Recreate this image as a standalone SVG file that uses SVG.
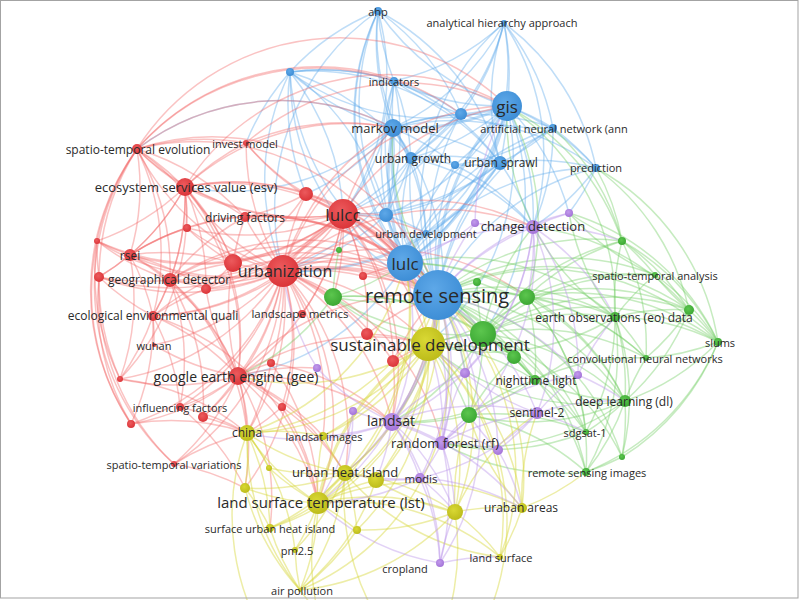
<svg xmlns="http://www.w3.org/2000/svg" width="800" height="600" viewBox="0 0 800 600">
<defs>
<radialGradient id="gR" cx="0.42" cy="0.38" r="0.62"><stop offset="0" stop-color="#ec5a5d"/><stop offset="1" stop-color="#db3539"/></radialGradient>
<radialGradient id="gB" cx="0.42" cy="0.38" r="0.62"><stop offset="0" stop-color="#5ea8e8"/><stop offset="1" stop-color="#3e8ed6"/></radialGradient>
<radialGradient id="gG" cx="0.42" cy="0.38" r="0.62"><stop offset="0" stop-color="#5cc64e"/><stop offset="1" stop-color="#3ca834"/></radialGradient>
<radialGradient id="gY" cx="0.42" cy="0.38" r="0.62"><stop offset="0" stop-color="#d9d834"/><stop offset="1" stop-color="#bdbc1a"/></radialGradient>
<radialGradient id="gP" cx="0.42" cy="0.38" r="0.62"><stop offset="0" stop-color="#c29aec"/><stop offset="1" stop-color="#a474d8"/></radialGradient>
</defs>
<style>
text{font-family:"Open Sans","DejaVu Sans",sans-serif;fill:#2a2a2a;text-anchor:middle;dominant-baseline:central}
#connectors path{fill:none;stroke-width:1.5;stroke-linecap:round}
#connectors .t{stroke-width:3}
.eb path{stroke:#5ea9ea;stroke-opacity:.4}
.er path{stroke:#f26a6a;stroke-opacity:.4}
.eg path{stroke:#70cc62;stroke-opacity:.4}
.ey path{stroke:#d8d63c;stroke-opacity:.45}
.ep path{stroke:#bb93ea;stroke-opacity:.42}
.R circle{fill:url(#gR)}
.B circle{fill:url(#gB)}
.G circle{fill:url(#gG)}
.Y circle{fill:url(#gY)}
.P circle{fill:url(#gP)}
</style>
<rect x="0" y="0" width="800" height="600" fill="#ffffff"/>
<g id="connectors">
<g class="eb">
<path class="t" d="M438 295A240 240 0 0 1 507 106"/>
<path class="t" d="M438 295A240 240 0 0 1 393 128"/>
<path class="t" d="M438 295A240 240 0 0 1 405 263"/>
<path d="M438 295A240 240 0 0 1 378 11"/>
<path d="M438 295A240 240 0 0 1 504 23"/>
<path d="M438 295A240 240 0 0 1 290 72"/>
<path d="M438 295A240 240 0 0 1 394 81"/>
<path d="M438 295A240 240 0 0 1 461 114"/>
<path d="M438 295A240 240 0 0 1 553 128"/>
<path d="M438 295A240 240 0 0 1 411 158"/>
<path d="M438 295A240 240 0 0 1 455 165"/>
<path d="M438 295A240 240 0 0 1 500 163"/>
<path d="M438 295A240 240 0 0 1 596 168"/>
<path d="M438 295A240 240 0 0 1 386 215"/>
<path d="M438 295A240 240 0 0 1 426 233"/>
<path d="M507 106A240 240 0 0 1 378 11"/>
<path d="M507 106A240 240 0 0 0 504 23"/>
<path d="M507 106A240 240 0 0 1 290 72"/>
<path d="M507 106A240 240 0 0 1 394 81"/>
<path d="M507 106A240 240 0 0 1 461 114"/>
<path class="t" d="M507 106A240 240 0 0 1 393 128"/>
<path d="M507 106A240 240 0 0 1 553 128"/>
<path d="M507 106A240 240 0 0 1 411 158"/>
<path d="M507 106A240 240 0 0 1 455 165"/>
<path d="M507 106A240 240 0 0 1 500 163"/>
<path d="M507 106A240 240 0 0 1 596 168"/>
<path d="M507 106A240 240 0 0 1 386 215"/>
<path d="M507 106A240 240 0 0 1 426 233"/>
<path class="t" d="M507 106A240 240 0 0 1 405 263"/>
<path d="M405 263A240 240 0 0 1 378 11"/>
<path d="M405 263A240 240 0 0 0 504 23"/>
<path d="M405 263A240 240 0 0 1 290 72"/>
<path d="M405 263A240 240 0 0 1 394 81"/>
<path class="t" d="M405 263A240 240 0 0 1 393 128"/>
<path d="M405 263A240 240 0 0 1 553 128"/>
<path d="M405 263A240 240 0 0 1 411 158"/>
<path d="M405 263A240 240 0 0 1 455 165"/>
<path d="M405 263A240 240 0 0 1 500 163"/>
<path d="M405 263A240 240 0 0 1 596 168"/>
<path d="M405 263A240 240 0 0 1 386 215"/>
<path d="M405 263A240 240 0 0 1 426 233"/>
<path d="M393 128A240 240 0 0 1 378 11"/>
<path d="M393 128A240 240 0 0 1 290 72"/>
<path d="M393 128A240 240 0 0 1 394 81"/>
<path d="M393 128A240 240 0 0 1 461 114"/>
<path d="M393 128A240 240 0 0 1 553 128"/>
<path d="M393 128A240 240 0 0 1 411 158"/>
<path d="M393 128A240 240 0 0 1 455 165"/>
<path d="M393 128A240 240 0 0 1 500 163"/>
<path d="M393 128A240 240 0 0 1 386 215"/>
<path d="M393 128A240 240 0 0 1 596 168"/>
<path d="M393 128A240 240 0 0 1 426 233"/>
<path d="M378 11A240 240 0 0 0 394 81"/>
<path d="M378 11A240 240 0 0 1 461 114"/>
<path d="M378 11A240 240 0 0 0 411 158"/>
<path d="M378 11A240 240 0 0 1 500 163"/>
<path d="M378 11A240 240 0 0 0 386 215"/>
<path d="M504 23A240 240 0 0 1 461 114"/>
<path d="M504 23A240 240 0 0 1 553 128"/>
<path d="M504 23A240 240 0 0 0 500 163"/>
<path d="M504 23A240 240 0 0 1 394 81"/>
<path d="M504 23A240 240 0 0 1 393 128"/>
<path d="M504 23A240 240 0 0 1 411 158"/>
<path d="M290 72A240 240 0 0 1 394 81"/>
<path d="M290 72A240 240 0 0 1 461 114"/>
<path d="M290 72A240 240 0 0 1 411 158"/>
<path d="M290 72A240 240 0 0 1 386 215"/>
<path d="M290 72A240 240 0 0 1 500 163"/>
<path d="M290 72A240 240 0 0 1 378 11"/>
<path d="M553 128A240 240 0 0 1 596 168"/>
<path d="M553 128A240 240 0 0 1 500 163"/>
<path d="M553 128A240 240 0 0 1 461 114"/>
<path d="M553 128A240 240 0 0 1 455 165"/>
<path d="M411 158A240 240 0 0 1 455 165"/>
<path d="M411 158A240 240 0 0 1 500 163"/>
<path d="M411 158A240 240 0 0 1 386 215"/>
<path d="M411 158A240 240 0 0 1 426 233"/>
<path d="M411 158A240 240 0 0 1 461 114"/>
<path d="M500 163A240 240 0 0 1 596 168"/>
<path d="M500 163A240 240 0 0 1 455 165"/>
<path d="M500 163A240 240 0 0 1 386 215"/>
<path d="M500 163A240 240 0 0 1 426 233"/>
<path d="M461 114A240 240 0 0 1 394 81"/>
<path d="M461 114A240 240 0 0 1 411 158"/>
<path d="M394 81A240 240 0 0 1 411 158"/>
<path d="M394 81A240 240 0 0 1 386 215"/>
<path d="M394 81A240 240 0 0 1 500 163"/>
<path d="M386 215A240 240 0 0 1 426 233"/>
<path d="M507 106A240 240 0 0 1 428 344"/>
<path d="M507 106A240 240 0 0 1 533 227"/>
<path d="M393 128A240 240 0 0 1 185 187"/>
<path d="M393 128A240 240 0 0 1 306 194"/>
<path d="M411 158A240 240 0 0 1 283 271"/>
<path d="M411 158A240 240 0 0 1 343 214"/>
<path d="M500 163A240 240 0 0 1 343 214"/>
<path d="M386 215A240 240 0 0 1 283 271"/>
<path d="M386 215A240 240 0 0 1 343 214"/>
<path d="M426 233A240 240 0 0 1 283 271"/>
<path d="M394 81A240 240 0 0 1 343 214"/>
<path d="M378 11A240 240 0 0 1 343 214"/>
<path d="M378 11A240 240 0 0 0 283 271"/>
<path d="M290 72A240 240 0 0 1 343 214"/>
<path d="M290 72A240 240 0 0 0 283 271"/>
<path d="M290 72A240 240 0 0 0 306 194"/>
<path d="M290 72A240 240 0 0 0 246 143"/>
<path d="M504 23A240 240 0 0 1 533 227"/>
<path d="M504 23A240 240 0 0 1 596 168"/>
<path d="M553 128A240 240 0 0 1 533 227"/>
<path d="M596 168A240 240 0 0 1 533 227"/>
<path d="M596 168A240 240 0 0 1 569 213"/>
<path d="M500 163A240 240 0 0 1 533 227"/>
<path d="M411 158A240 240 0 0 1 533 227"/>
<path d="M455 165A240 240 0 0 1 533 227"/>
<path d="M507 106A240 240 0 0 1 569 213"/>
<path d="M393 128A240 240 0 0 1 392 422"/>
<path d="M405 263A240 240 0 0 1 238 376"/>
<path d="M393 128A240 240 0 0 0 137 149"/>
<path d="M507 106A240 240 0 0 1 483 334"/>
<path d="M461 114A240 240 0 0 1 343 214"/>
<path d="M500 163A240 240 0 0 1 283 271"/>
</g>
<g class="er">
<path d="M283 271A240 240 0 0 1 137 149"/>
<path d="M283 271A240 240 0 0 1 246 143"/>
<path d="M283 271A240 240 0 0 1 185 187"/>
<path d="M283 271A240 240 0 0 1 306 194"/>
<path d="M283 271A240 240 0 0 1 245 217"/>
<path d="M283 271A240 240 0 0 1 187 228"/>
<path class="t" d="M283 271A240 240 0 0 1 343 214"/>
<path d="M283 271A240 240 0 0 1 97 241"/>
<path d="M283 271A240 240 0 0 1 130 255"/>
<path d="M283 271A240 240 0 0 1 99 277"/>
<path d="M283 271A240 240 0 0 1 170 280"/>
<path d="M283 271A240 240 0 0 1 206 289"/>
<path d="M283 271A240 240 0 0 1 233 263"/>
<path d="M283 271A240 240 0 0 1 363 276"/>
<path d="M283 271A240 240 0 0 1 153 316"/>
<path d="M283 271A240 240 0 0 1 302 314"/>
<path d="M283 271A240 240 0 0 1 367 334"/>
<path d="M283 271A240 240 0 0 1 154 345"/>
<path d="M283 271A240 240 0 0 1 120 379"/>
<path d="M283 271A240 240 0 0 1 238 376"/>
<path d="M283 271A240 240 0 0 1 271 363"/>
<path d="M283 271A240 240 0 0 1 393 361"/>
<path d="M283 271A240 240 0 0 1 282 407"/>
<path d="M283 271A240 240 0 0 1 180 407"/>
<path d="M283 271A240 240 0 0 1 203 417"/>
<path d="M283 271A240 240 0 0 1 131 424"/>
<path d="M283 271A240 240 0 0 1 174 464"/>
<path d="M343 214A240 240 0 0 1 137 149"/>
<path d="M343 214A240 240 0 0 1 246 143"/>
<path d="M343 214A240 240 0 0 1 185 187"/>
<path d="M343 214A240 240 0 0 1 306 194"/>
<path d="M343 214A240 240 0 0 1 245 217"/>
<path d="M343 214A240 240 0 0 1 187 228"/>
<path d="M343 214A240 240 0 0 1 130 255"/>
<path d="M343 214A240 240 0 0 1 170 280"/>
<path d="M343 214A240 240 0 0 1 233 263"/>
<path d="M343 214A240 240 0 0 1 206 289"/>
<path d="M343 214A240 240 0 0 1 153 316"/>
<path d="M343 214A240 240 0 0 1 238 376"/>
<path d="M343 214A240 240 0 0 1 302 314"/>
<path d="M343 214A240 240 0 0 1 363 276"/>
<path d="M343 214A240 240 0 0 1 367 334"/>
<path d="M343 214A240 240 0 0 1 97 241"/>
<path d="M343 214A240 240 0 0 1 99 277"/>
<path d="M343 214A240 240 0 0 1 393 361"/>
<path d="M185 187A240 240 0 0 1 137 149"/>
<path d="M185 187A240 240 0 0 1 246 143"/>
<path d="M185 187A240 240 0 0 1 306 194"/>
<path d="M185 187A240 240 0 0 1 245 217"/>
<path d="M185 187A240 240 0 0 1 187 228"/>
<path d="M185 187A240 240 0 0 1 97 241"/>
<path d="M185 187A240 240 0 0 1 130 255"/>
<path d="M185 187A240 240 0 0 1 99 277"/>
<path d="M185 187A240 240 0 0 1 170 280"/>
<path d="M185 187A240 240 0 0 1 206 289"/>
<path d="M185 187A240 240 0 0 1 233 263"/>
<path d="M185 187A240 240 0 0 1 153 316"/>
<path d="M185 187A240 240 0 0 1 238 376"/>
<path d="M185 187A240 240 0 0 1 120 379"/>
<path d="M137 149A240 240 0 0 1 246 143"/>
<path d="M137 149A240 240 0 0 0 97 241"/>
<path d="M137 149A240 240 0 0 1 130 255"/>
<path d="M137 149A240 240 0 0 0 99 277"/>
<path d="M137 149A240 240 0 0 1 170 280"/>
<path d="M137 149A240 240 0 0 1 153 316"/>
<path d="M137 149A240 240 0 0 1 233 263"/>
<path d="M137 149A240 240 0 0 1 245 217"/>
<path d="M137 149A240 240 0 0 1 238 376"/>
<path d="M174 464A240 240 0 0 1 137 149"/>
<path d="M131 424A240 240 0 0 1 137 149"/>
<path d="M130 255A240 240 0 0 1 97 241"/>
<path d="M130 255A240 240 0 0 1 99 277"/>
<path d="M130 255A240 240 0 0 1 170 280"/>
<path d="M130 255A240 240 0 0 1 153 316"/>
<path d="M130 255A240 240 0 0 1 233 263"/>
<path d="M130 255A240 240 0 0 1 206 289"/>
<path d="M130 255A240 240 0 0 1 238 376"/>
<path d="M130 255A240 240 0 0 1 120 379"/>
<path d="M130 255A240 240 0 0 1 187 228"/>
<path d="M170 280A240 240 0 0 1 99 277"/>
<path d="M170 280A240 240 0 0 1 206 289"/>
<path d="M170 280A240 240 0 0 1 233 263"/>
<path d="M170 280A240 240 0 0 1 153 316"/>
<path d="M170 280A240 240 0 0 1 238 376"/>
<path d="M170 280A240 240 0 0 1 245 217"/>
<path d="M170 280A240 240 0 0 1 180 407"/>
<path d="M170 280A240 240 0 0 1 203 417"/>
<path d="M170 280A240 240 0 0 1 97 241"/>
<path d="M153 316A240 240 0 0 1 99 277"/>
<path d="M153 316A240 240 0 0 1 206 289"/>
<path d="M153 316A240 240 0 0 1 154 345"/>
<path d="M153 316A240 240 0 0 1 120 379"/>
<path d="M153 316A240 240 0 0 1 238 376"/>
<path d="M153 316A240 240 0 0 1 180 407"/>
<path d="M153 316A240 240 0 0 1 131 424"/>
<path d="M238 376A240 240 0 0 1 233 263"/>
<path d="M238 376A240 240 0 0 1 154 345"/>
<path d="M238 376A240 240 0 0 1 120 379"/>
<path d="M238 376A240 240 0 0 1 271 363"/>
<path d="M238 376A240 240 0 0 1 282 407"/>
<path d="M238 376A240 240 0 0 1 180 407"/>
<path d="M238 376A240 240 0 0 1 203 417"/>
<path d="M238 376A240 240 0 0 1 131 424"/>
<path d="M238 376A240 240 0 0 1 174 464"/>
<path d="M238 376A240 240 0 0 1 206 289"/>
<path d="M233 263A240 240 0 0 1 245 217"/>
<path d="M233 263A240 240 0 0 1 187 228"/>
<path d="M233 263A240 240 0 0 1 206 289"/>
<path d="M306 194A240 240 0 0 1 246 143"/>
<path d="M306 194A240 240 0 0 1 245 217"/>
<path d="M306 194A240 240 0 0 1 233 263"/>
<path d="M97 241A240 240 0 0 0 99 277"/>
<path d="M120 379A240 240 0 0 1 97 241"/>
<path d="M131 424A240 240 0 0 1 97 241"/>
<path d="M120 379A240 240 0 0 1 99 277"/>
<path d="M131 424A240 240 0 0 1 99 277"/>
<path d="M174 464A240 240 0 0 1 99 277"/>
<path class="t" d="M343 214A240 240 0 0 1 438 295"/>
<path class="t" d="M343 214A240 240 0 0 1 405 263"/>
<path d="M343 214A240 240 0 0 1 507 106"/>
<path d="M343 214A240 240 0 0 1 393 128"/>
<path class="t" d="M283 271A240 240 0 0 1 438 295"/>
<path d="M283 271A240 240 0 0 1 405 263"/>
<path d="M283 271A240 240 0 0 1 507 106"/>
<path d="M283 271A240 240 0 0 1 393 128"/>
<path d="M185 187A240 240 0 0 1 438 295"/>
<path d="M185 187A240 240 0 0 1 405 263"/>
<path d="M137 149A240 240 0 0 1 405 263"/>
<path d="M137 149A240 240 0 0 1 438 295"/>
<path d="M170 280A240 240 0 0 1 405 263"/>
<path d="M130 255A240 240 0 0 1 438 295"/>
<path d="M153 316A240 240 0 0 1 438 295"/>
<path d="M238 376A240 240 0 0 1 438 295"/>
<path d="M306 194A240 240 0 0 1 438 295"/>
<path d="M306 194A240 240 0 0 1 405 263"/>
<path d="M245 217A240 240 0 0 1 405 263"/>
<path d="M246 143A240 240 0 0 1 393 128"/>
<path d="M246 143A240 240 0 0 1 507 106"/>
<path d="M137 149A240 240 0 0 1 507 106"/>
<path d="M185 187A240 240 0 0 1 507 106"/>
<path d="M137 149A240 240 0 0 1 393 128"/>
<path d="M283 271A240 240 0 0 1 428 344"/>
<path d="M283 271A240 240 0 0 1 247 433"/>
<path d="M283 271A240 240 0 0 1 318 503"/>
<path d="M238 376A240 240 0 0 1 247 433"/>
<path d="M238 376A240 240 0 0 1 318 503"/>
<path d="M343 214A240 240 0 0 1 428 344"/>
<path d="M180 407A240 240 0 0 1 247 433"/>
<path d="M174 464A240 240 0 0 1 247 433"/>
<path d="M282 407A240 240 0 0 1 318 503"/>
<path d="M271 363A240 240 0 0 1 318 503"/>
<path d="M120 379A240 240 0 0 1 247 433"/>
<path d="M131 424A240 240 0 0 1 247 433"/>
<path d="M170 280A240 240 0 0 1 247 433"/>
<path d="M153 316A240 240 0 0 1 318 503"/>
<path d="M238 376A240 240 0 0 1 428 344"/>
<path d="M367 334A240 240 0 0 1 428 344"/>
<path d="M393 361A240 240 0 0 1 428 344"/>
<path d="M283 271A240 240 0 0 1 333 297"/>
<path d="M343 214A240 240 0 0 1 333 297"/>
<path d="M343 214A240 240 0 0 1 339 250"/>
<path d="M283 271A240 240 0 0 1 483 334"/>
<path d="M238 376A240 240 0 0 1 392 422"/>
<path d="M283 271A240 240 0 0 1 392 422"/>
<path d="M238 376A240 240 0 0 1 317 368"/>
<path d="M283 271A240 240 0 0 1 345 473"/>
<path d="M283 271A240 240 0 0 1 323 436"/>
<path d="M283 271A240 240 0 0 1 245 488"/>
<path d="M343 214A240 240 0 0 1 392 422"/>
<path d="M238 376A240 240 0 0 1 345 473"/>
<path d="M238 376A240 240 0 0 1 323 436"/>
<path d="M238 376A240 240 0 0 1 245 488"/>
<path d="M238 376A240 240 0 0 1 270 528"/>
<path d="M180 407A240 240 0 0 1 245 488"/>
<path d="M174 464A240 240 0 0 1 245 488"/>
<path d="M203 417A240 240 0 0 1 247 433"/>
<path d="M282 407A240 240 0 0 1 247 433"/>
<path d="M271 363A240 240 0 0 1 247 433"/>
<path d="M282 407A240 240 0 0 1 345 473"/>
<path d="M271 363A240 240 0 0 1 392 422"/>
<path d="M283 271A240 240 0 0 1 442 443"/>
<path d="M283 271A240 240 0 0 1 533 227"/>
<path d="M343 214A240 240 0 0 1 533 227"/>
<path d="M283 271A240 240 0 0 1 426 233"/>
<path d="M343 214A240 240 0 0 1 426 233"/>
<path d="M343 214A240 240 0 0 1 386 215"/>
<path d="M170 280A240 240 0 0 1 438 295"/>
<path d="M233 263A240 240 0 0 1 438 295"/>
<path d="M245 217A240 240 0 0 1 438 295"/>
<path d="M206 289A240 240 0 0 1 438 295"/>
<path d="M363 276A240 240 0 0 1 438 295"/>
<path d="M367 334A240 240 0 0 1 438 295"/>
<path d="M393 361A240 240 0 0 1 438 295"/>
<path d="M363 276A240 240 0 0 1 405 263"/>
<path d="M393 361A240 240 0 0 1 392 422"/>
<path d="M137 149A240 240 0 0 1 394 81"/>
<path d="M137 149A240 240 0 0 1 461 114"/>
<path d="M185 187A240 240 0 0 1 393 128"/>
<path d="M130 255A240 240 0 0 1 405 263"/>
<path d="M283 271A240 240 0 0 1 527 297"/>
</g>
<g class="eg">
<path d="M483 334A240 240 0 0 1 333 297"/>
<path d="M483 334A240 240 0 0 1 477 282"/>
<path d="M483 334A240 240 0 0 1 527 297"/>
<path d="M483 334A240 240 0 0 1 514 357"/>
<path d="M483 334A240 240 0 0 1 622 241"/>
<path d="M483 334A240 240 0 0 1 655 275"/>
<path d="M483 334A240 240 0 0 1 689 310"/>
<path d="M483 334A240 240 0 0 1 615 317"/>
<path d="M483 334A240 240 0 0 1 718 342"/>
<path d="M483 334A240 240 0 0 1 646 358"/>
<path d="M483 334A240 240 0 0 1 535 380"/>
<path d="M483 334A240 240 0 0 1 625 401"/>
<path d="M483 334A240 240 0 0 1 469 415"/>
<path d="M483 334A240 240 0 0 1 586 432"/>
<path d="M483 334A240 240 0 0 1 622 457"/>
<path d="M483 334A240 240 0 0 1 586 472"/>
<path d="M527 297A240 240 0 0 1 622 241"/>
<path d="M527 297A240 240 0 0 1 655 275"/>
<path d="M527 297A240 240 0 0 1 689 310"/>
<path d="M527 297A240 240 0 0 1 615 317"/>
<path d="M527 297A240 240 0 0 1 718 342"/>
<path d="M527 297A240 240 0 0 1 646 358"/>
<path d="M527 297A240 240 0 0 1 535 380"/>
<path d="M527 297A240 240 0 0 1 625 401"/>
<path d="M527 297A240 240 0 0 1 586 432"/>
<path d="M527 297A240 240 0 0 1 586 472"/>
<path d="M527 297A240 240 0 0 1 477 282"/>
<path d="M615 317A240 240 0 0 1 622 241"/>
<path d="M615 317A240 240 0 0 1 655 275"/>
<path d="M615 317A240 240 0 0 1 689 310"/>
<path d="M615 317A240 240 0 0 1 718 342"/>
<path d="M615 317A240 240 0 0 1 646 358"/>
<path d="M615 317A240 240 0 0 1 625 401"/>
<path d="M615 317A240 240 0 0 1 586 432"/>
<path d="M615 317A240 240 0 0 1 622 457"/>
<path d="M615 317A240 240 0 0 1 586 472"/>
<path d="M615 317A240 240 0 0 1 535 380"/>
<path d="M625 401A240 240 0 0 0 689 310"/>
<path d="M625 401A240 240 0 0 0 718 342"/>
<path d="M625 401A240 240 0 0 1 646 358"/>
<path d="M625 401A240 240 0 0 1 586 432"/>
<path d="M625 401A240 240 0 0 1 622 457"/>
<path d="M625 401A240 240 0 0 1 586 472"/>
<path d="M625 401A240 240 0 0 1 535 380"/>
<path d="M625 401A240 240 0 0 1 469 415"/>
<path d="M622 241A240 240 0 0 1 655 275"/>
<path d="M622 241A240 240 0 0 1 689 310"/>
<path d="M622 241A240 240 0 0 1 718 342"/>
<path d="M622 241A240 240 0 0 1 646 358"/>
<path d="M689 310A240 240 0 0 1 718 342"/>
<path d="M689 310A240 240 0 0 1 646 358"/>
<path d="M689 310A240 240 0 0 1 655 275"/>
<path d="M718 342A240 240 0 0 0 655 275"/>
<path d="M718 342A240 240 0 0 1 646 358"/>
<path d="M718 342A240 240 0 0 1 622 457"/>
<path d="M718 342A240 240 0 0 1 586 472"/>
<path d="M535 380A240 240 0 0 1 514 357"/>
<path d="M535 380A240 240 0 0 1 646 358"/>
<path d="M535 380A240 240 0 0 1 586 432"/>
<path d="M469 415A240 240 0 0 1 514 357"/>
<path d="M469 415A240 240 0 0 1 535 380"/>
<path d="M469 415A240 240 0 0 1 586 432"/>
<path d="M469 415A240 240 0 0 1 586 472"/>
<path d="M333 297A240 240 0 0 1 339 250"/>
<path d="M333 297A240 240 0 0 1 514 357"/>
<path d="M333 297A240 240 0 0 1 535 380"/>
<path d="M438 295A240 240 0 0 1 333 297"/>
<path d="M438 295A240 240 0 0 1 477 282"/>
<path d="M438 295A240 240 0 0 1 527 297"/>
<path class="t" d="M438 295A240 240 0 0 1 483 334"/>
<path d="M438 295A240 240 0 0 1 514 357"/>
<path d="M438 295A240 240 0 0 1 622 241"/>
<path d="M438 295A240 240 0 0 1 655 275"/>
<path d="M438 295A240 240 0 0 1 689 310"/>
<path d="M438 295A240 240 0 0 1 615 317"/>
<path d="M438 295A240 240 0 0 1 718 342"/>
<path d="M438 295A240 240 0 0 1 646 358"/>
<path d="M438 295A240 240 0 0 1 535 380"/>
<path d="M438 295A240 240 0 0 1 625 401"/>
<path d="M438 295A240 240 0 0 1 469 415"/>
<path d="M438 295A240 240 0 0 1 586 432"/>
<path d="M438 295A240 240 0 0 1 622 457"/>
<path d="M438 295A240 240 0 0 1 586 472"/>
<path d="M405 263A240 240 0 0 1 333 297"/>
<path d="M405 263A240 240 0 0 1 483 334"/>
<path d="M405 263A240 240 0 0 1 527 297"/>
<path d="M405 263A240 240 0 0 1 615 317"/>
<path d="M405 263A240 240 0 0 1 625 401"/>
<path d="M507 106A240 240 0 0 1 622 241"/>
<path d="M507 106A240 240 0 0 1 527 297"/>
<path d="M507 106A240 240 0 0 1 615 317"/>
<path d="M596 168A240 240 0 0 1 622 241"/>
<path d="M596 168A240 240 0 0 1 718 342"/>
<path d="M596 168A240 240 0 0 1 689 310"/>
<path d="M553 128A240 240 0 0 1 622 241"/>
<path d="M428 344A240 240 0 0 1 483 334"/>
<path d="M428 344A240 240 0 0 1 514 357"/>
<path d="M428 344A240 240 0 0 1 535 380"/>
<path d="M428 344A240 240 0 0 1 469 415"/>
<path d="M428 344A240 240 0 0 1 333 297"/>
<path d="M615 317A240 240 0 0 1 507 106"/>
<path d="M483 334A240 240 0 0 1 533 227"/>
<path d="M483 334A240 240 0 0 1 392 422"/>
<path d="M469 415A240 240 0 0 1 392 422"/>
<path d="M535 380A240 240 0 0 1 392 422"/>
<path d="M625 401A240 240 0 0 1 442 443"/>
<path d="M615 317A240 240 0 0 1 569 213"/>
<path d="M622 241A240 240 0 0 1 569 213"/>
<path d="M655 275A240 240 0 0 1 569 213"/>
<path d="M333 297A240 240 0 0 1 238 376"/>
<path d="M586 432A240 240 0 0 1 442 443"/>
<path d="M586 472A240 240 0 0 1 442 443"/>
<path d="M622 457A240 240 0 0 1 586 472"/>
<path d="M483 334A240 240 0 0 1 393 128"/>
<path d="M718 342A240 240 0 0 0 569 213"/>
<path d="M689 310A240 240 0 0 0 533 227"/>
<path d="M615 317A240 240 0 0 1 428 344"/>
<path d="M625 401A240 240 0 0 1 428 344"/>
<path d="M527 297A240 240 0 0 1 428 344"/>
</g>
<g class="ey">
<path d="M318 503A240 240 0 0 1 247 433"/>
<path d="M318 503A240 240 0 0 1 323 436"/>
<path d="M318 503A240 240 0 0 1 269 468"/>
<path class="t" d="M318 503A240 240 0 0 1 345 473"/>
<path d="M318 503A240 240 0 0 1 376 480"/>
<path d="M318 503A240 240 0 0 1 245 488"/>
<path d="M318 503A240 240 0 0 1 357 530"/>
<path d="M318 503A240 240 0 0 1 270 528"/>
<path d="M318 503A240 240 0 0 1 295 550"/>
<path d="M318 503A240 240 0 0 1 300 590"/>
<path d="M318 503A240 240 0 0 1 455 512"/>
<path d="M318 503A240 240 0 0 1 522 508"/>
<path d="M318 503A240 240 0 0 1 500 557"/>
<path class="t" d="M318 503A240 240 0 0 1 428 344"/>
<path d="M428 344A240 240 0 0 1 247 433"/>
<path d="M428 344A240 240 0 0 1 323 436"/>
<path d="M428 344A240 240 0 0 1 345 473"/>
<path d="M428 344A240 240 0 0 1 376 480"/>
<path d="M428 344A240 240 0 0 1 455 512"/>
<path d="M428 344A240 240 0 0 1 522 508"/>
<path d="M428 344A240 240 0 0 1 500 557"/>
<path d="M428 344A240 240 0 0 1 357 530"/>
<path d="M345 473A240 240 0 0 1 247 433"/>
<path d="M345 473A240 240 0 0 1 323 436"/>
<path d="M345 473A240 240 0 0 1 269 468"/>
<path d="M345 473A240 240 0 0 1 376 480"/>
<path d="M345 473A240 240 0 0 1 245 488"/>
<path d="M345 473A240 240 0 0 1 357 530"/>
<path d="M345 473A240 240 0 0 1 270 528"/>
<path d="M345 473A240 240 0 0 1 295 550"/>
<path d="M345 473A240 240 0 0 1 300 590"/>
<path d="M345 473A240 240 0 0 1 455 512"/>
<path d="M455 512A240 240 0 0 1 376 480"/>
<path d="M455 512A240 240 0 0 1 357 530"/>
<path d="M455 512A240 240 0 0 1 522 508"/>
<path d="M455 512A240 240 0 0 1 500 557"/>
<path d="M455 512A240 240 0 0 1 300 590"/>
<path d="M247 433A240 240 0 0 1 323 436"/>
<path d="M247 433A240 240 0 0 1 269 468"/>
<path d="M247 433A240 240 0 0 1 245 488"/>
<path d="M247 433A240 240 0 0 1 270 528"/>
<path d="M247 433A240 240 0 0 1 295 550"/>
<path d="M247 433A240 240 0 0 0 300 590"/>
<path d="M522 508A240 240 0 0 1 500 557"/>
<path d="M300 590A240 240 0 0 1 270 528"/>
<path d="M300 590A240 240 0 0 1 295 550"/>
<path d="M300 590A240 240 0 0 1 245 488"/>
<path class="t" d="M438 295A240 240 0 0 1 428 344"/>
<path d="M438 295A240 240 0 0 1 247 433"/>
<path d="M438 295A240 240 0 0 1 323 436"/>
<path d="M438 295A240 240 0 0 1 345 473"/>
<path d="M438 295A240 240 0 0 1 376 480"/>
<path d="M438 295A240 240 0 0 1 318 503"/>
<path d="M438 295A240 240 0 0 1 270 528"/>
<path d="M438 295A240 240 0 0 1 455 512"/>
<path d="M438 295A240 240 0 0 1 522 508"/>
<path d="M438 295A240 240 0 0 1 500 557"/>
<path d="M438 295A240 240 0 0 1 300 590"/>
<path d="M405 263A240 240 0 0 1 428 344"/>
<path d="M405 263A240 240 0 0 1 318 503"/>
<path d="M405 263A240 240 0 0 1 247 433"/>
<path d="M405 263A240 240 0 0 1 345 473"/>
<path d="M318 503A240 240 0 0 0 330 650"/>
<path d="M455 512A240 240 0 0 1 430 660"/>
<path d="M345 473A240 240 0 0 0 400 650"/>
<path d="M428 344A240 240 0 0 1 470 650"/>
<path d="M300 590A240 240 0 0 0 380 660"/>
<path d="M247 433A240 240 0 0 0 280 660"/>
<path d="M522 508A240 240 0 0 0 586 472"/>
<path d="M428 344A240 240 0 0 1 238 376"/>
<path d="M455 512A240 240 0 0 1 537 413"/>
<path d="M522 508A240 240 0 0 1 537 413"/>
<path d="M455 512A240 240 0 0 1 469 415"/>
<path d="M522 508A240 240 0 0 1 469 415"/>
<path d="M500 557A240 240 0 0 1 345 473"/>
<path d="M357 530A240 240 0 0 1 300 590"/>
<path d="M376 480A240 240 0 0 1 300 590"/>
<path d="M245 488A240 240 0 0 1 270 528"/>
</g>
<g class="ep">
<path d="M392 422A240 240 0 0 1 465 373"/>
<path d="M392 422A240 240 0 0 1 317 368"/>
<path d="M392 422A240 240 0 0 1 353 411"/>
<path class="t" d="M392 422A240 240 0 0 1 442 443"/>
<path d="M392 422A240 240 0 0 1 498 450"/>
<path d="M392 422A240 240 0 0 1 537 413"/>
<path d="M392 422A240 240 0 0 1 420 478"/>
<path d="M392 422A240 240 0 0 1 440 563"/>
<path d="M392 422A240 240 0 0 1 318 503"/>
<path d="M392 422A240 240 0 0 1 345 473"/>
<path d="M392 422A240 240 0 0 1 376 480"/>
<path d="M392 422A240 240 0 0 1 455 512"/>
<path d="M392 422A240 240 0 0 1 323 436"/>
<path d="M392 422A240 240 0 0 1 247 433"/>
<path d="M442 443A240 240 0 0 1 465 373"/>
<path d="M442 443A240 240 0 0 1 578 375"/>
<path d="M442 443A240 240 0 0 1 498 450"/>
<path d="M442 443A240 240 0 0 1 537 413"/>
<path d="M442 443A240 240 0 0 1 420 478"/>
<path d="M442 443A240 240 0 0 1 440 563"/>
<path d="M442 443A240 240 0 0 1 455 512"/>
<path d="M442 443A240 240 0 0 1 469 415"/>
<path d="M533 227A240 240 0 0 1 569 213"/>
<path d="M533 227A240 240 0 0 1 475 223"/>
<path d="M533 227A240 240 0 0 1 465 373"/>
<path d="M533 227A240 240 0 0 1 578 375"/>
<path d="M533 227A240 240 0 0 1 392 422"/>
<path d="M533 227A240 240 0 0 1 442 443"/>
<path d="M533 227A240 240 0 0 1 537 413"/>
<path d="M533 227A240 240 0 0 1 622 241"/>
<path d="M533 227A240 240 0 0 1 527 297"/>
<path d="M533 227A240 240 0 0 1 615 317"/>
<path d="M537 413A240 240 0 0 1 465 373"/>
<path d="M537 413A240 240 0 0 1 578 375"/>
<path d="M537 413A240 240 0 0 1 498 450"/>
<path d="M537 413A240 240 0 0 1 420 478"/>
<path d="M537 413A240 240 0 0 1 625 401"/>
<path d="M537 413A240 240 0 0 1 586 432"/>
<path d="M420 478A240 240 0 0 1 440 563"/>
<path d="M420 478A240 240 0 0 1 318 503"/>
<path d="M420 478A240 240 0 0 1 376 480"/>
<path d="M420 478A240 240 0 0 1 345 473"/>
<path d="M440 563A240 240 0 0 1 318 503"/>
<path d="M440 563A240 240 0 0 1 455 512"/>
<path d="M440 563A240 240 0 0 1 500 557"/>
<path d="M438 295A240 240 0 0 1 569 213"/>
<path d="M438 295A240 240 0 0 1 475 223"/>
<path d="M438 295A240 240 0 0 1 533 227"/>
<path d="M438 295A240 240 0 0 1 465 373"/>
<path d="M438 295A240 240 0 0 1 578 375"/>
<path class="t" d="M438 295A240 240 0 0 1 392 422"/>
<path d="M438 295A240 240 0 0 1 442 443"/>
<path d="M438 295A240 240 0 0 1 498 450"/>
<path d="M438 295A240 240 0 0 1 537 413"/>
<path d="M438 295A240 240 0 0 1 420 478"/>
<path d="M438 295A240 240 0 0 1 440 563"/>
<path d="M405 263A240 240 0 0 1 533 227"/>
<path d="M405 263A240 240 0 0 1 392 422"/>
<path d="M405 263A240 240 0 0 1 442 443"/>
<path d="M317 368A240 240 0 0 1 283 271"/>
<path d="M428 344A240 240 0 0 1 392 422"/>
<path d="M428 344A240 240 0 0 1 442 443"/>
<path d="M465 373A240 240 0 0 1 483 334"/>
<path d="M465 373A240 240 0 0 1 428 344"/>
<path d="M578 375A240 240 0 0 1 625 401"/>
<path d="M578 375A240 240 0 0 1 615 317"/>
<path d="M475 223A240 240 0 0 1 405 263"/>
<path d="M475 223A240 240 0 0 1 507 106"/>
<path d="M442 443A240 240 0 0 1 522 508"/>
<path d="M420 478A240 240 0 0 1 455 512"/>
<path d="M420 478A240 240 0 0 1 522 508"/>
<path d="M498 450A240 240 0 0 1 522 508"/>
<path d="M498 450A240 240 0 0 1 469 415"/>
<path d="M353 411A240 240 0 0 1 345 473"/>
<path d="M353 411A240 240 0 0 1 318 503"/>
</g>
</g>
<g id="nodes">
<g id="n1" class="B"><circle cx="290" cy="72" r="4"/></g>
<g id="n2" class="B"><circle cx="461" cy="114" r="6"/></g>
<g id="n3" class="B"><circle cx="455" cy="165" r="4"/></g>
<g id="n4" class="B"><circle cx="386" cy="215" r="7"/></g>
<g id="n5" class="R"><circle cx="306" cy="194" r="7"/></g>
<g id="n6" class="R"><circle cx="187" cy="228" r="4"/></g>
<g id="n7" class="R"><circle cx="97" cy="241" r="3"/></g>
<g id="n8" class="R"><circle cx="99" cy="277" r="5"/></g>
<g id="n9" class="R"><circle cx="206" cy="289" r="5"/></g>
<g id="n10" class="R"><circle cx="233" cy="263" r="9"/></g>
<g id="n11" class="R"><circle cx="363" cy="276" r="4"/></g>
<g id="n12" class="R"><circle cx="367" cy="334" r="6"/></g>
<g id="n13" class="R"><circle cx="120" cy="379" r="3"/></g>
<g id="n14" class="R"><circle cx="271" cy="363" r="4"/></g>
<g id="n15" class="R"><circle cx="393" cy="361" r="6"/></g>
<g id="n16" class="R"><circle cx="282" cy="407" r="4"/></g>
<g id="n17" class="R"><circle cx="203" cy="417" r="5"/></g>
<g id="n18" class="R"><circle cx="131" cy="424" r="4"/></g>
<g id="n19" class="G"><circle cx="339" cy="250" r="3"/></g>
<g id="n20" class="G"><circle cx="333" cy="297" r="9"/></g>
<g id="n21" class="G"><circle cx="477" cy="282" r="4"/></g>
<g id="n22" class="G"><circle cx="527" cy="297" r="8"/></g>
<g id="n23" class="G"><circle cx="483" cy="334" r="13"/></g>
<g id="n24" class="G"><circle cx="514" cy="357" r="7"/></g>
<g id="n25" class="G"><circle cx="622" cy="241" r="4"/></g>
<g id="n26" class="G"><circle cx="689" cy="310" r="5"/></g>
<g id="n27" class="G"><circle cx="469" cy="415" r="8"/></g>
<g id="n28" class="G"><circle cx="622" cy="457" r="3"/></g>
<g id="n29" class="P"><circle cx="569" cy="213" r="4"/></g>
<g id="n30" class="P"><circle cx="475" cy="223" r="4"/></g>
<g id="n31" class="P"><circle cx="465" cy="373" r="5"/></g>
<g id="n32" class="P"><circle cx="578" cy="375" r="4"/></g>
<g id="n33" class="P"><circle cx="317" cy="368" r="4"/></g>
<g id="n34" class="P"><circle cx="353" cy="411" r="4"/></g>
<g id="n35" class="P"><circle cx="498" cy="450" r="5"/></g>
<g id="n36" class="Y"><circle cx="269" cy="468" r="3"/></g>
<g id="n37" class="Y"><circle cx="376" cy="480" r="8"/></g>
<g id="n38" class="Y"><circle cx="245" cy="488" r="5"/></g>
<g id="n39" class="Y"><circle cx="357" cy="530" r="4"/></g>
<g id="n40" class="Y"><circle cx="455" cy="512" r="8"/></g>

<g id="ahp" class="B"><circle cx="378" cy="11" r="4"/><text x="378" y="11" font-size="11">ahp</text></g>
<g id="analytical-hierarchy-approach" class="B"><circle cx="504" cy="23" r="3"/><text x="502" y="22" font-size="11">analytical hierarchy approach</text></g>
<g id="indicators" class="B"><circle cx="394" cy="81" r="4"/><text x="394" y="81" font-size="11">indicators</text></g>
<g id="ann" class="B"><circle cx="553" cy="128" r="4"/><text x="554" y="128" font-size="11">artificial neural network (ann</text></g>
<g id="prediction" class="B"><circle cx="596" cy="168" r="4"/><text x="596" y="167" font-size="11">prediction</text></g>
<g id="urban-development" class="B"><circle cx="426" cy="233" r="3"/><text x="426" y="233" font-size="11">urban development</text></g>
<g id="invest-model" class="R"><circle cx="246" cy="143" r="3"/><text x="245" y="143" font-size="11">invest model</text></g>
<g id="wuhan" class="R"><circle cx="154" cy="345" r="2"/><text x="154" y="345" font-size="11">wuhan</text></g>
<g id="influencing-factors" class="R"><circle cx="180" cy="407" r="4"/><text x="180" y="407" font-size="11">influencing factors</text></g>
<g id="spatio-temporal-variations" class="R"><circle cx="174" cy="464" r="3"/><text x="174" y="464" font-size="11">spatio-temporal variations</text></g>
<g id="landscape-metrics" class="R"><circle cx="302" cy="314" r="4"/><text x="300" y="313" font-size="11.5">landscape metrics</text></g>
<g id="spatio-temporal-analysis" class="G"><circle cx="655" cy="275" r="3"/><text x="655" y="275" font-size="11">spatio-temporal analysis</text></g>
<g id="slums" class="G"><circle cx="718" cy="342" r="4"/><text x="720" y="342" font-size="11">slums</text></g>
<g id="cnn" class="G"><circle cx="646" cy="358" r="3"/><text x="645" y="358" font-size="11">convolutional neural networks</text></g>
<g id="sdgsat-1" class="G"><circle cx="586" cy="432" r="3"/><text x="585" y="432" font-size="11">sdgsat-1</text></g>
<g id="remote-sensing-images" class="G"><circle cx="586" cy="472" r="4"/><text x="587" y="472" font-size="11">remote sensing images</text></g>
<g id="modis" class="P"><circle cx="420" cy="478" r="5"/><text x="421" y="478" font-size="11.5">modis</text></g>
<g id="cropland" class="P"><circle cx="440" cy="563" r="4"/><text x="405" y="568" font-size="11">cropland</text></g>
<g id="landsat-images" class="Y"><circle cx="323" cy="436" r="4"/><text x="324" y="436" font-size="11">landsat images</text></g>
<g id="surface-urban-heat-island" class="Y"><circle cx="270" cy="528" r="4"/><text x="270" y="528" font-size="11">surface urban heat island</text></g>
<g id="pm25" class="Y"><circle cx="295" cy="550" r="3"/><text x="297" y="550" font-size="11">pm2.5</text></g>
<g id="air-pollution" class="Y"><circle cx="300" cy="590" r="2"/><text x="302" y="590" font-size="11">air pollution</text></g>
<g id="land-surface" class="Y"><circle cx="500" cy="557" r="3"/><text x="501" y="557" font-size="11">land surface</text></g>

<g id="urban-growth" class="B"><circle cx="411" cy="158" r="6"/><text x="413" y="158" font-size="12">urban growth</text></g>
<g id="urban-sprawl" class="B"><circle cx="500" cy="163" r="7"/><text x="501" y="162" font-size="12">urban sprawl</text></g>
<g id="spatio-temporal-evolution" class="R"><circle cx="137" cy="149" r="5"/><text x="138" y="149" font-size="12">spatio-temporal evolution</text></g>
<g id="driving-factors" class="R"><circle cx="245" cy="217" r="5"/><text x="245" y="217" font-size="12">driving factors</text></g>
<g id="rsei" class="R"><circle cx="130" cy="255" r="6"/><text x="130" y="255" font-size="12">rsei</text></g>
<g id="geographical-detector" class="R"><circle cx="170" cy="280" r="7"/><text x="169" y="279" font-size="12">geographical detector</text></g>
<g id="ecological-environmental-quali" class="R"><circle cx="153" cy="316" r="5"/><text x="153" y="315" font-size="12">ecological environmental quali</text></g>
<g id="eo-data" class="G"><circle cx="615" cy="317" r="5"/><text x="614" y="317" font-size="12">earth observations (eo) data</text></g>
<g id="nighttime-light" class="G"><circle cx="535" cy="380" r="5"/><text x="536" y="380" font-size="12">nighttime light</text></g>
<g id="deep-learning" class="G"><circle cx="625" cy="401" r="6"/><text x="624" y="401" font-size="12">deep learning (dl)</text></g>
<g id="sentinel-2" class="P"><circle cx="537" cy="413" r="6"/><text x="537" y="412" font-size="12">sentinel-2</text></g>
<g id="china" class="Y"><circle cx="247" cy="433" r="8"/><text x="247" y="432" font-size="12">china</text></g>
<g id="uraban-areas" class="Y"><circle cx="522" cy="508" r="5"/><text x="521" y="507" font-size="12">uraban areas</text></g>

<g id="markov-model" class="B"><circle cx="393" cy="128" r="9"/><text x="395" y="128" font-size="13">markov model</text></g>
<g id="esv" class="R"><circle cx="185" cy="187" r="9"/><text x="186" y="187" font-size="13">ecosystem services value (esv)</text></g>
<g id="change-detection" class="P"><circle cx="533" cy="227" r="7"/><text x="533" y="226" font-size="13">change detection</text></g>
<g id="random-forest" class="P"><circle cx="442" cy="443" r="7"/><text x="445" y="443" font-size="13">random forest (rf)</text></g>
<g id="urban-heat-island" class="Y"><circle cx="345" cy="473" r="8"/><text x="345" y="472" font-size="13">urban heat island</text></g>
<g id="landsat" class="P"><circle cx="392" cy="422" r="9"/><text x="391" y="420" font-size="14">landsat</text></g>
<g id="gee" class="R"><circle cx="238" cy="376" r="9"/><text x="236" y="376" font-size="14">google earth engine (gee)</text></g>
<g id="lst" class="Y"><circle cx="318" cy="503" r="11"/><text x="321" y="502" font-size="15">land surface temperature (lst)</text></g>
<g id="gis" class="B"><circle cx="507" cy="106" r="15"/><text x="507" y="106" font-size="17">gis</text></g>
<g id="lulcc" class="R"><circle cx="343" cy="214" r="15"/><text x="343" y="214" font-size="17">lulcc</text></g>
<g id="urbanization" class="R"><circle cx="283" cy="271" r="16"/><text x="285" y="271" font-size="16">urbanization</text></g>
<g id="lulc" class="B"><circle cx="405" cy="263" r="18"/><text x="405" y="263" font-size="17">lulc</text></g>
<g id="sustainable-development" class="Y"><circle cx="428" cy="344" r="17"/><text x="430" y="344" font-size="17">sustainable development</text></g>
<g id="remote-sensing" class="B"><circle cx="438" cy="295" r="25"/><text x="437" y="295" font-size="20">remote sensing</text></g>
</g>
<rect x="0.5" y="0.5" width="797.5" height="597.5" fill="none" stroke="#a3a3a3" stroke-width="1"/>
</svg>
